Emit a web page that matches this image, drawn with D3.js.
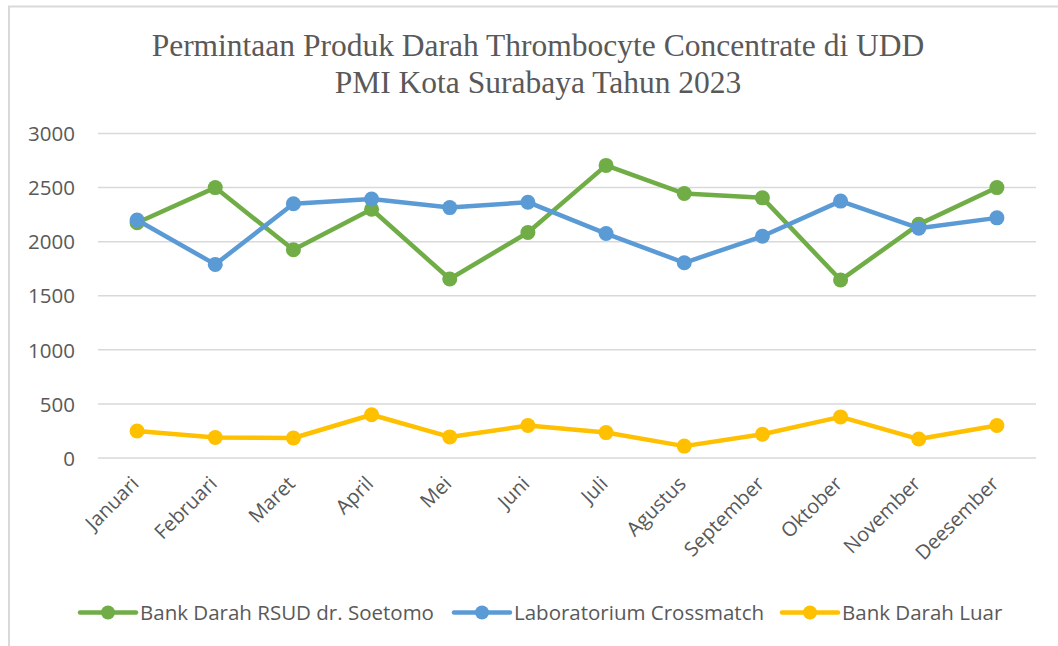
<!DOCTYPE html>
<html>
<head>
<meta charset="utf-8">
<script src="https://cdn.jsdelivr.net/npm/d3@7"></script>
<style>
  html, body { margin: 0; padding: 0; background: #fff; }
  svg { display: block; }
</style>
</head>
<body>
<svg id="chart" width="1058" height="646"></svg>
<script>
const months = ["Januari","Februari","Maret","April","Mei","Juni","Juli","Agustus","September","Oktober","November","Deesember"];
const bankDarahRSUD = [2175, 2500, 1925, 2300, 1655, 2085, 2705, 2445, 2405, 1645, 2160, 2500];
const labCrossmatch = [2200, 1790, 2350, 2395, 2315, 2365, 2075, 1805, 2050, 2375, 2125, 2220];
const bankDarahLuar = [250, 190, 185, 400, 195, 300, 235, 110, 220, 380, 175, 300];
const yTicks = [0, 500, 1000, 1500, 2000, 2500, 3000];
const seriesNames = ["Bank Darah RSUD dr. Soetomo", "Laboratorium Crossmatch", "Bank Darah Luar"];
const seriesColors = ["#70AD47", "#5B9BD5", "#FFC000"];
const titleLines = ["Permintaan Produk Darah Thrombocyte Concentrate di UDD", "PMI Kota Surabaya Tahun 2023"];

const series = [bankDarahRSUD, labCrossmatch, bankDarahLuar].map((vals, i) => ({
  name: seriesNames[i], color: seriesColors[i], values: vals
}));

const svg = d3.select("#chart");
const W = 1058, H = 646;
const plot = { left: 98, right: 1036, top: 133.5, bottom: 458 };

// chart border
svg.append("rect")
  .attr("x", 9).attr("y", 6.5)
  .attr("width", W + 10).attr("height", H + 10)
  .attr("fill", "#fff").attr("stroke", "#d9d9d9").attr("stroke-width", 2);

// title
const title = svg.append("text")
  .attr("text-anchor", "middle")
  .attr("font-family", "'Liberation Serif', 'Times New Roman', serif")
  .attr("font-size", 31.5)
  .attr("fill", "#595959");
titleLines.forEach((t, i) => {
  title.append("tspan").attr("x", 538).attr("y", 56 + i * 37).text(t);
});

const x = d3.scaleBand().domain(months).range([plot.left, plot.right]);
const y = d3.scaleLinear().domain([0, 3000]).range([plot.bottom, plot.top]);

// gridlines
svg.append("g").selectAll("line").data(yTicks).join("line")
  .attr("x1", plot.left).attr("x2", plot.right)
  .attr("y1", d => y(d)).attr("y2", d => y(d))
  .attr("stroke", "#d9d9d9").attr("stroke-width", 1.5);

// y axis labels
const yAxis = d3.axisLeft(y).tickValues(yTicks).tickSize(0).tickPadding(0).tickFormat(d3.format("d"));
const yg = svg.append("g").attr("transform", `translate(75,0)`).call(yAxis);
yg.select(".domain").remove();
yg.selectAll("text")
  .attr("font-family", "'Open Sans', sans-serif")
  .attr("font-size", 20.5)
  .attr("fill", "#595959")
  .attr("dy", "0.35em");

// x axis labels
const xAxis = d3.axisBottom(x).tickSize(0).tickPadding(0);
const xg = svg.append("g").attr("transform", `translate(0,${plot.bottom})`).call(xAxis);
xg.select(".domain").remove();
xg.selectAll("text")
  .attr("font-family", "'Open Sans', sans-serif")
  .attr("font-size", 20)
  .attr("fill", "#595959")
  .attr("text-anchor", "end")
  .attr("dy", 0)
  .attr("y", 0)
  .attr("transform", "translate(3,27) rotate(-45)");

// lines
const line = d3.line()
  .x((d, i) => x(months[i]) + x.bandwidth() / 2)
  .y(d => y(d));

series.forEach(s => {
  const g = svg.append("g");
  g.append("path")
    .attr("d", line(s.values))
    .attr("fill", "none")
    .attr("stroke", s.color)
    .attr("stroke-width", 4.5)
    .attr("stroke-linejoin", "round");
  g.selectAll("circle").data(s.values).join("circle")
    .attr("cx", (d, i) => x(months[i]) + x.bandwidth() / 2)
    .attr("cy", d => y(d))
    .attr("r", 7.5)
    .attr("fill", s.color);
});

// legend
const legendX = [80, 454, 782];
const legend = svg.append("g");
series.forEach((s, i) => {
  const g = legend.append("g").attr("transform", `translate(${legendX[i]},612.5)`);
  g.append("line").attr("x1", 0).attr("x2", 56).attr("y1", 0).attr("y2", 0)
    .attr("stroke", s.color).attr("stroke-width", 4.5).attr("stroke-linecap", "round");
  g.append("circle").attr("cx", 28).attr("cy", 0).attr("r", 7).attr("fill", s.color);
  g.append("text").attr("x", 60).attr("y", 0).attr("dy", "0.35em")
    .attr("font-family", "'Open Sans', sans-serif")
    .attr("font-size", 20.5)
    .attr("fill", "#595959")
    .text(s.name);
});
</script>
</body>
</html>
